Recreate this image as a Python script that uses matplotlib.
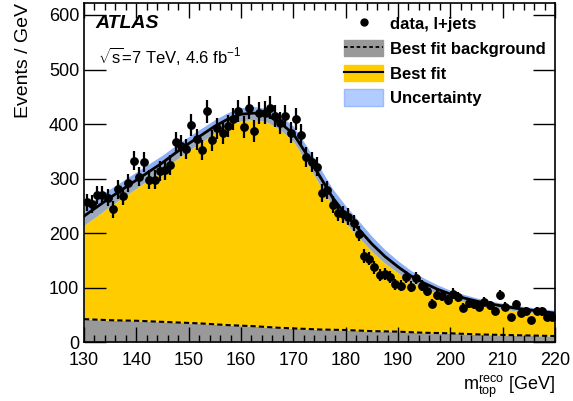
import numpy as np
import matplotlib
matplotlib.use("Agg")
import matplotlib.pyplot as plt
from matplotlib.lines import Line2D
from matplotlib.patches import Patch

plt.rcParams['font.family'] = ['Liberation Sans', 'DejaVu Sans']
plt.rcParams['mathtext.fontset'] = 'custom'
plt.rcParams['mathtext.rm'] = 'Liberation Sans'
plt.rcParams['mathtext.it'] = 'Liberation Sans:italic'

# data, l+jets: 1 GeV bins from 130 to 220 GeV (bin centres)
bin_centers = np.arange(130.5, 220.0, 1.0)
counts = [
    256, 253, 269, 270, 265, 244, 280, 267, 292, 333,
    303, 330, 298, 298, 314, 315, 325, 367, 360, 354,
    398, 372, 352, 423, 370, 392, 383, 396, 410, 424,
    394, 430, 387, 420, 421, 430, 414, 402, 415, 384,
    409, 380, 339, 330, 322, 274, 279, 252, 237, 234,
    230, 219, 199, 158, 153, 137, 123, 125, 119, 106,
    103, 119, 101, 118, 103, 94, 70, 86, 84, 77,
    89, 83, 63, 71, 69, 65, 74, 67, 57, 87,
    65, 45, 69, 53, 57, 40, 57, 56, 45, 45,
]

fit_x = np.arange(130.0, 220.1, 2.5)
fit_total = [
    231, 248, 265, 281, 297, 313, 329, 347, 364, 380,
    396, 409, 418, 420, 416, 402, 382, 345, 305, 265,
    234, 207, 180, 157, 138, 121, 108, 97, 88, 81,
    75, 70, 66, 62, 59, 56, 53,
]
fit_bkg = [
    42, 41, 40, 39.5, 39, 38, 37, 36, 35, 34,
    32.5, 31, 30, 29, 27.5, 26, 25, 24, 23, 22.5,
    22, 21, 20, 19.5, 19, 18, 17, 16.5, 16, 15,
    14, 13.5, 13, 12.5, 12, 11.5, 11,
]
fit_err = [
    17, 16.5, 16, 15.5, 15, 14.5, 14, 13.5, 13, 12.5,
    12, 12, 12, 12, 12.5, 13, 14, 15, 16, 16,
    16, 15, 14, 12.5, 11, 10, 9, 8, 7, 6.5,
    6, 5.5, 5, 5, 5, 5, 5,
]

GRAY = '#999999'
YELLOW = '#ffcc00'
BAND_UP = '#8eb0f5'
BAND_LO = '#9aa9bd'
BAND_LEG = '#b3ccff'

counts = np.asarray(counts, float)
total = np.asarray(fit_total, float)
bkg = np.asarray(fit_bkg, float)
err = np.asarray(fit_err, float)

fig = plt.figure(figsize=(5.73, 4.01), dpi=100)
ax = fig.add_axes([0.1466, 0.1471, 0.822, 0.8454])

ax.fill_between(fit_x, 0, bkg, color=GRAY, lw=0, zorder=1)
ax.fill_between(fit_x, bkg, total - err, color=YELLOW, lw=0, zorder=1)
ax.fill_between(fit_x, total - err, total, color=BAND_LO, lw=0, zorder=2)
ax.fill_between(fit_x, total, total + err, color=BAND_UP, lw=0, zorder=2)
ax.plot(fit_x, bkg, color='k', ls=(0, (2.5, 1.5)), lw=1.5, zorder=3)
ax.plot(fit_x, total, color='k', lw=2, zorder=3)

# Poisson error bars on the data
ax.errorbar(bin_centers, counts, yerr=np.sqrt(counts), fmt='o', color='k',
            ms=5.3, elinewidth=1.6, capsize=0, zorder=4)

ax.set_xlim(130, 220)
ax.set_ylim(0, 622)
ax.set_xticks(np.arange(130, 221, 10))
ax.set_xticks(np.arange(130, 221, 2), minor=True)
ax.set_yticks(np.arange(0, 601, 100))
ax.tick_params(which='both', direction='in', top=True, right=True,
               labelsize=13, width=1)
ax.tick_params(which='major', length=11)
ax.tick_params(axis='y', which='major', length=16)
ax.tick_params(which='minor', length=5)
ax.tick_params(axis='x', pad=7)
for s in ax.spines.values():
    s.set_linewidth(1.2)

ax.set_ylabel('Events / GeV', fontsize=14, loc='top', labelpad=12)
ax.set_xlabel(r'$\mathregular{m_{top}^{reco}}$ [GeV]', fontsize=13,
              loc='right', labelpad=3)

ax.text(0.025, 0.94, 'ATLAS', transform=ax.transAxes, fontsize=14,
        fontweight='bold', fontstyle='italic', va='center')
ax.text(0.03, 0.845, r'$\mathregular{\sqrt{s}}$=7 TeV, 4.6 fb$^{\mathregular{-1}}$',
        transform=ax.transAxes, fontsize=12, va='center')

handles = [
    Line2D([], [], marker='o', color='k', ls='none', ms=5),
    (Patch(color=GRAY), Line2D([], [], color='k', ls=(0, (2, 1.5)), lw=1.3)),
    (Patch(color=YELLOW), Line2D([], [], color='k', lw=1.5)),
    Patch(facecolor=BAND_LEG, edgecolor='#99bbff'),
]
labels = ['data, l+jets', 'Best fit background', 'Best fit', 'Uncertainty']
ax.legend(handles, labels, loc='upper right', bbox_to_anchor=(0.995, 0.984),
          frameon=False, handlelength=2.3, handleheight=1.15,
          labelspacing=0.47, handletextpad=0.45, borderaxespad=0.0,
          prop={'weight': 'bold', 'size': 12})

fig.savefig('out.png', dpi=100)
